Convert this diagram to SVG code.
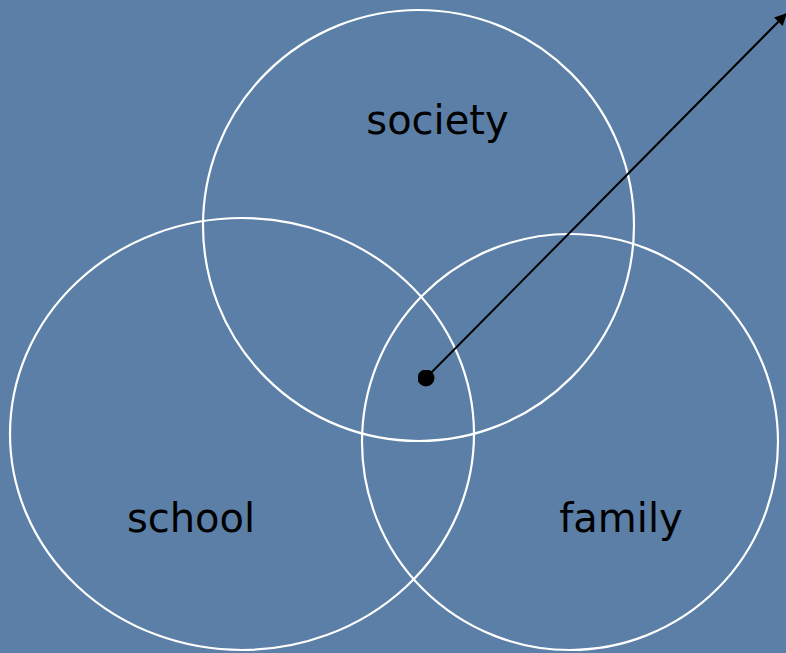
<svg xmlns="http://www.w3.org/2000/svg" width="786" height="653" viewBox="0 0 786 653">
<defs>
<style>
.c{fill:none;stroke:#fff;stroke-width:2.2}
.t{font-family:"DejaVu Sans","Liberation Sans",sans-serif;font-size:40px;fill:#000;text-anchor:middle}
</style>
<marker id="ah" viewBox="0 0 10 10" refX="9" refY="5" markerWidth="15" markerHeight="12" orient="auto" markerUnits="userSpaceOnUse">
<path d="M0,0 L10,5 L0,10 z" fill="#000"/>
</marker>
<marker id="dot" viewBox="0 0 10 10" refX="5" refY="5" markerWidth="17" markerHeight="17" markerUnits="userSpaceOnUse">
<circle cx="5" cy="5" r="5" fill="#000"/>
</marker>
</defs>
<rect width="786" height="653" fill="#5b7fa7"/>
<g id="society"><circle class="c" cx="418.5" cy="225.5" r="215.5"/><text class="t" x="437.5" y="134">society</text></g>
<g id="school"><ellipse class="c" cx="242" cy="434" rx="232" ry="216"/><text class="t" x="191" y="532">school</text></g>
<g id="family"><circle class="c" cx="570" cy="442" r="208"/><text class="t" x="621" y="532">family</text></g>
<g id="connectors"><line x1="426" y1="378" x2="786" y2="14" stroke="#000" stroke-width="2" marker-start="url(#dot)" marker-end="url(#ah)"/></g>
</svg>
